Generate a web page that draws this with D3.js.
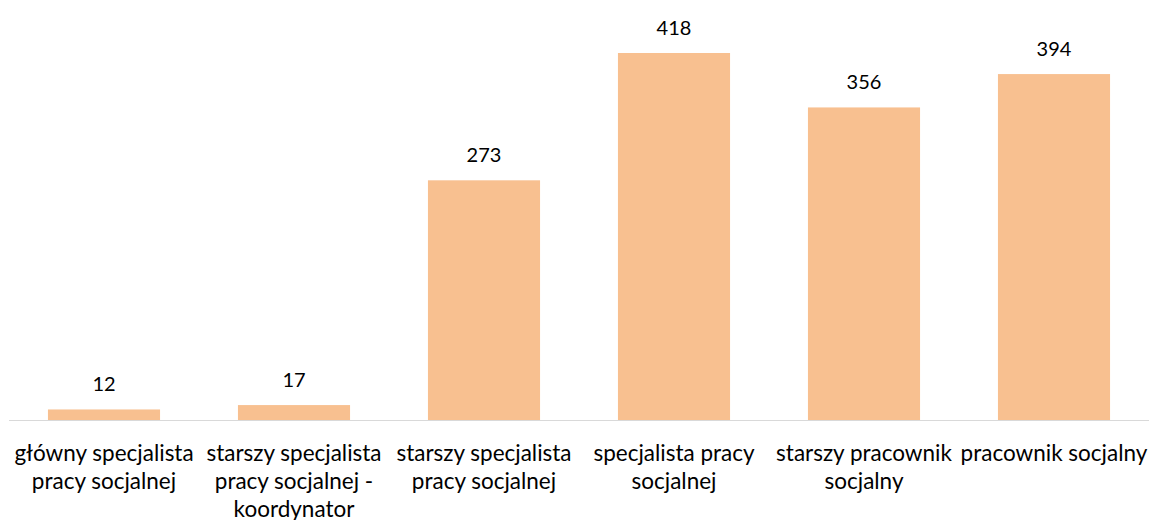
<!DOCTYPE html>
<html lang="pl">
<head>
  <meta charset="UTF-8">
  <title>Chart</title>
  <style>
    body { margin: 0; background: #fff; }
    svg text { font-family: Lato, "Open Sans", sans-serif; fill: #000; }
  </style>
</head>
<body>
  <svg id="chart"></svg>

  <script src="https://cdnjs.cloudflare.com/ajax/libs/d3/7.8.5/d3.min.js"></script>
  <script>
    // dane
    var categories = [
      "główny specjalista pracy socjalnej",
      "starszy specjalista pracy socjalnej - koordynator",
      "starszy specjalista pracy socjalnej",
      "specjalista pracy socjalnej",
      "starszy pracownik socjalny",
      "pracownik socjalny"
    ];
    var values = [12, 17, 273, 418, 356, 394];

    var width = 1149;
    var height = 520;
    var baseY = 420;

    var svg = d3.select("#chart")
      .attr("width", width)
      .attr("height", height);

    var x = d3.scaleBand()
      .domain(categories)
      .range([9, 1149])
      .paddingInner(0.41)
      .paddingOuter(0.205);

    var y = d3.scaleLinear()
      .domain([0, 418])
      .range([baseY, 53]);

    // słupki
    svg.selectAll("rect.bar")
      .data(values)
      .enter()
      .append("rect")
      .attr("class", "bar")
      .attr("x", function (d, i) { return x(categories[i]); })
      .attr("y", function (d) { return y(d); })
      .attr("width", x.bandwidth())
      .attr("height", function (d) { return baseY - y(d); })
      .attr("fill", "#f8c090");

    // oś X
    svg.append("line")
      .attr("x1", 9)
      .attr("x2", 1149)
      .attr("y1", baseY + 0.5)
      .attr("y2", baseY + 0.5)
      .attr("stroke", "#d9d9d9")
      .attr("stroke-width", 1);

    // etykiety wartości
    svg.selectAll("text.val")
      .data(values)
      .enter()
      .append("text")
      .attr("class", "val")
      .attr("x", function (d, i) { return x(categories[i]) + x.bandwidth() / 2; })
      .attr("y", function (d) { return y(d) - 18; })
      .attr("text-anchor", "middle")
      .attr("font-size", 20)
      .text(function (d) { return d; });

    // etykiety kategorii z zawijaniem
    function wrapWords(str, maxW, node) {
      var words = str.split(" ");
      var lines = [];
      var cur = "";
      words.forEach(function (w) {
        var test = cur ? cur + " " + w : w;
        node.text(test);
        if (node.node().getComputedTextLength() > maxW && cur) {
          lines.push(cur);
          cur = w;
        } else {
          cur = test;
        }
      });
      if (cur) lines.push(cur);
      return lines;
    }

    var labels = svg.selectAll("text.cat")
      .data(categories)
      .enter()
      .append("text")
      .attr("class", "cat")
      .attr("font-size", 22.5)
      .attr("text-anchor", "middle")
      .attr("y", 461);

    labels.each(function (d) {
      var t = d3.select(this);
      var lines = wrapWords(d, 200, t);
      t.text(null);
      var cx = x(d) + x.bandwidth() / 2;
      lines.forEach(function (ln, k) {
        t.append("tspan")
          .attr("x", cx)
          .attr("y", 461 + k * 28)
          .text(ln);
      });
    });
  </script>
</body>
</html>
